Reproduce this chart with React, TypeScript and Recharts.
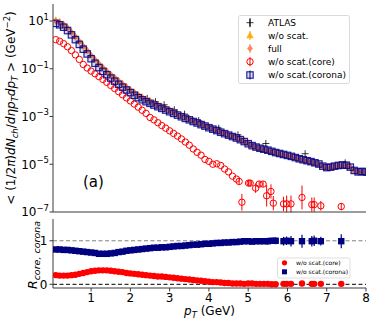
import React from "react";
import { ScatterChart, Scatter, XAxis, YAxis, ErrorBar, ReferenceLine } from "recharts";

const FONT = "'DejaVu Sans', sans-serif";
const FRAME = "#3a3a3a";

// pT grid of the model histograms (GeV)
const PT = [
  0.1, 0.2, 0.3, 0.4, 0.5, 0.6, 0.7, 0.8, 0.9, 1.0,
  1.1, 1.2, 1.3, 1.4, 1.5, 1.6, 1.7, 1.8, 1.9, 2.0,
  2.1, 2.2, 2.3, 2.4, 2.5, 2.6, 2.7, 2.8, 2.9, 3.0,
  3.1, 3.2, 3.3, 3.4, 3.5, 3.6, 3.7, 3.8, 3.9, 4.0,
  4.1, 4.2, 4.3, 4.4, 4.5, 4.6, 4.7, 4.8, 4.9, 5.0,
  5.1, 5.2, 5.3, 5.4, 5.5, 5.6, 5.7, 5.8, 5.9, 6.0,
  6.1, 6.2, 6.3, 6.4, 6.5, 6.6, 6.7, 6.8, 6.9, 7.0,
  7.1, 7.2, 7.3, 7.4, 7.5, 7.6, 7.7, 7.8, 7.9, 8.0,
];

// log10 of the yield
const WOSCAT_LOG = [
  1.03, 0.97, 0.86, 0.72, 0.54, 0.35, 0.15, -0.05, -0.24, -0.44,
  -0.62, -0.79, -0.95, -1.10, -1.24, -1.38, -1.51, -1.63, -1.76, -1.88,
  -1.99, -2.10, -2.19, -2.28, -2.36, -2.44, -2.51, -2.59, -2.66, -2.74,
  -2.81, -2.89, -2.96, -3.03, -3.10, -3.17, -3.23, -3.30, -3.37, -3.44,
  -3.50, -3.57, -3.63, -3.70, -3.77, -3.83, -3.89, -3.96, -4.04, -4.12,
  -4.21, -4.28, -4.32, -4.37, -4.42, -4.46, -4.50, -4.55, -4.60, -4.63,
  -4.67, -4.71, -4.77, -4.82, -4.85, -4.89, -4.95, -4.99, -5.07, -5.13,
  -5.12, -5.09, -5.05, -5.03, -5.05, -5.12, -5.25, -5.31, -5.30, -5.34,
];
const FULL_LOG = [
  1.00, 0.94, 0.84, 0.70, 0.52, 0.34, 0.14, -0.06, -0.24, -0.44,
  -0.62, -0.80, -0.96, -1.10, -1.24, -1.37, -1.51, -1.64, -1.76, -1.88,
  -2.00, -2.10, -2.20, -2.28, -2.36, -2.44, -2.52, -2.59, -2.66, -2.73,
  -2.82, -2.89, -2.96, -3.03, -3.10, -3.17, -3.24, -3.30, -3.37, -3.44,
  -3.51, -3.57, -3.64, -3.70, -3.76, -3.83, -3.89, -3.96, -4.04, -4.13,
  -4.22, -4.28, -4.33, -4.37, -4.41, -4.46, -4.51, -4.55, -4.59, -4.63,
  -4.67, -4.72, -4.77, -4.81, -4.85, -4.89, -4.94, -4.99, -5.08, -5.14,
  -5.12, -5.08, -5.05, -5.03, -5.04, -5.12, -5.26, -5.32, -5.30, -5.33,
];
const CORONA_LOG = [
  0.90, 0.84, 0.74, 0.60, 0.42, 0.22, 0.02, -0.18, -0.38, -0.58,
  -0.77, -0.95, -1.11, -1.25, -1.39, -1.52, -1.65, -1.77, -1.89, -2.00,
  -2.11, -2.21, -2.30, -2.38, -2.45, -2.52, -2.59, -2.66, -2.73, -2.80,
  -2.87, -2.94, -3.01, -3.08, -3.14, -3.21, -3.27, -3.34, -3.40, -3.47,
  -3.53, -3.59, -3.66, -3.72, -3.78, -3.84, -3.90, -3.97, -4.05, -4.14,
  -4.22, -4.28, -4.33, -4.37, -4.41, -4.46, -4.51, -4.55, -4.59, -4.63,
  -4.67, -4.72, -4.77, -4.81, -4.85, -4.89, -4.94, -4.99, -5.08, -5.14,
  -5.12, -5.08, -5.05, -5.03, -5.04, -5.12, -5.26, -5.32, -5.30, -5.33,
];
// core: pT 0.1 .. 4.7
const CORE_LOG = [
  0.22, 0.15, 0.05, -0.08, -0.24, -0.42, -0.61, -0.82, -0.97, -1.10,
  -1.21, -1.33, -1.45, -1.57, -1.70, -1.83, -1.96, -2.09, -2.22, -2.35,
  -2.48, -2.61, -2.74, -2.87, -3.04, -3.14, -3.26, -3.38, -3.49, -3.60,
  -3.71, -3.82, -3.94, -4.07, -4.20, -4.36, -4.50, -4.62, -4.80, -4.88,
  -5.00, -4.98, -5.05, -5.20, -5.32, -5.50, -5.62,
];
const CORE_TAIL_PT = [4.77, 4.84, 5.01, 5.05, 5.19, 5.28, 5.38, 5.47, 5.58, 5.64, 5.9, 5.98, 6.09, 6.37, 6.62, 6.68, 6.85, 7.37];
const CORE_TAIL_LOG = [-5.72, -6.59, -5.79, -5.79, -6.0, -5.83, -5.83, -6.32, -6.14, -6.63, -6.66, -6.66, -6.66, -6.39, -6.69, -6.69, -6.74, -6.77];
const CORE_TAIL_ERR = [0.15, 0.35, 0.1, 0.1, 0.2, 0.12, 0.12, 0.45, 0.3, 0.3, 0.3, 0.35, 0.35, 0.5, 0.3, 0.3, 0.2, 0.15];

// ATLAS points that stand out of the model band
const ATLAS_PT = [2.43, 2.64, 2.86, 3.12, 3.38, 3.74, 4.25, 4.74, 5.45, 6.45, 7.47];
const ATLAS_LOG = [-2.24, -2.38, -2.51, -2.72, -2.9, -3.17, -3.49, -3.77, -4.13, -4.56, -4.94];

// ratios, pT 0.1 .. 5.7
const R_CORONA = [
  0.80, 0.80, 0.79, 0.79, 0.78, 0.77, 0.76, 0.75, 0.74, 0.73,
  0.72, 0.70, 0.70, 0.70, 0.71, 0.72, 0.74, 0.75, 0.77, 0.78,
  0.79, 0.80, 0.81, 0.82, 0.83, 0.84, 0.84, 0.85, 0.85, 0.86,
  0.87, 0.88, 0.88, 0.89, 0.90, 0.91, 0.91, 0.92, 0.93, 0.93,
  0.94, 0.95, 0.95, 0.96, 0.96, 0.97, 0.97, 0.98, 0.99, 0.99,
  0.98, 0.99, 0.99, 0.99, 0.99, 1.00, 1.00,
];
const R_CORONA_ERR = [
  0, 0, 0, 0, 0, 0, 0, 0, 0, 0,
  0, 0, 0, 0, 0, 0, 0, 0, 0, 0,
  0, 0, 0, 0, 0, 0, 0, 0, 0, 0,
  0, 0, 0, 0, 0, 0, 0, 0, 0, 0,
  0, 0, 0, 0, 0, 0, 0.02, 0.03, 0.05, 0.04,
  0.06, 0.05, 0.07, 0.06, 0.08, 0.07, 0.08,
];
const R_CORE = [
  0.21, 0.20, 0.20, 0.20, 0.21, 0.22, 0.24, 0.26, 0.28, 0.30,
  0.31, 0.32, 0.32, 0.32, 0.31, 0.30, 0.29, 0.28, 0.26, 0.25,
  0.24, 0.23, 0.22, 0.21, 0.20, 0.19, 0.18, 0.18, 0.17, 0.16,
  0.15, 0.14, 0.13, 0.12, 0.11, 0.10, 0.09, 0.08, 0.07, 0.06,
  0.05, 0.05, 0.04, 0.03, 0.03, 0.02, 0.02, 0.02, 0.01, 0.02,
  0.02, 0.01, 0.01, 0.01, 0.01, 0.00, 0.00,
];
const R_TAIL_PT = [5.9, 5.98, 6.09, 6.37, 6.62, 6.68, 6.85, 7.37];
const R_CORONA_TAIL = [0.99, 1.0, 0.99, 0.99, 0.99, 1.0, 0.99, 0.99];
const R_CORONA_TAIL_ERR = [0.1, 0.1, 0.12, 0.15, 0.12, 0.12, 0.1, 0.16];
const R_CORE_TAIL = [0.01, 0.01, 0.01, 0.02, 0.01, 0.01, 0.01, 0.01];

const X_TICKS = [1, 2, 3, 4, 5, 6, 7, 8];
const Y_TICKS = [10, 1e-1, 1e-3, 1e-5, 1e-7];
const R_TICKS = [0, 1];

const spectrum = (xs: number[], logs: number[]) => xs.map((x, i) => ({ x, y: 10 ** logs[i] }));
const spectrumErr = (xs: number[], logs: number[], errs: number[]) =>
  xs.map((x, i) => {
    const y = 10 ** logs[i];
    return { x, y, e: [y - y / 10 ** errs[i], y * 10 ** errs[i] - y] };
  });
const ratio = (xs: number[], ys: number[], errs?: number[]) =>
  xs.map((x, i) => ({ x, y: ys[i], e: errs ? errs[i] : 0 }));

const atlasData = spectrum(ATLAS_PT, ATLAS_LOG);
const woScatData = spectrum(PT, WOSCAT_LOG);
const fullData = spectrum(PT, FULL_LOG);
const coreData = [
  ...spectrumErr(PT.slice(0, CORE_LOG.length), CORE_LOG, CORE_LOG.map(() => 0)),
  ...spectrumErr(CORE_TAIL_PT, CORE_TAIL_LOG, CORE_TAIL_ERR),
];
const coronaData = spectrum(PT, CORONA_LOG);
const rCoreData = [...ratio(PT.slice(0, R_CORE.length), R_CORE), ...ratio(R_TAIL_PT, R_CORE_TAIL)];
const rCoronaData = [
  ...ratio(PT.slice(0, R_CORONA.length), R_CORONA, R_CORONA_ERR),
  ...ratio(R_TAIL_PT, R_CORONA_TAIL, R_CORONA_TAIL_ERR),
];

// marker shapes
type M = { cx?: number; cy?: number };
const Cross = ({ cx = 0, cy = 0 }: M) => (
  <path d={`M${cx - 3.5},${cy}H${cx + 3.5}M${cx},${cy - 3.5}V${cy + 3.5}`} stroke="#000" strokeWidth={0.8} />
);
const Tri = ({ cx = 0, cy = 0 }: M) => (
  <polygon points={`${cx},${cy - 4} ${cx + 3.8},${cy + 2.8} ${cx - 3.8},${cy + 2.8}`} fill="#ffa500" fillOpacity={0.85} />
);
const Diamond = ({ cx = 0, cy = 0 }: M) => (
  <polygon points={`${cx},${cy - 3.6} ${cx + 3},${cy} ${cx},${cy + 3.6} ${cx - 3},${cy}`} fill="#ff7f50" fillOpacity={0.9} />
);
const OpenCircle = ({ cx = 0, cy = 0 }: M) => (
  <circle cx={cx} cy={cy} r={3.2} fill="none" stroke="#ff0000" strokeWidth={1} />
);
const OpenSquare = ({ cx = 0, cy = 0 }: M) => (
  <rect x={cx - 3.2} y={cy - 3.2} width={6.4} height={6.4} fill="#00008b" fillOpacity={0.15} stroke="#00008b" strokeOpacity={0.85} strokeWidth={1.2} />
);
const Dot = ({ cx = 0, cy = 0 }: M) => <circle cx={cx} cy={cy} r={3.2} fill="#ff0000" />;
const Block = ({ cx = 0, cy = 0 }: M) => <rect x={cx - 3.2} y={cy - 3.2} width={6.4} height={6.4} fill="#000080" />;

function LogTick({ x, y, payload }: any) {
  const exp = Math.round(Math.log10(payload.value));
  const label = exp < 0 ? "\u2212" + Math.abs(exp) : String(exp);
  return (
    <text x={x} y={y} dy="0.36em" textAnchor="end" fontSize={12} fontFamily={FONT} fill="#000">
      10<tspan dy={-5.5} fontSize={8.5}>{label}</tspan>
    </text>
  );
}

const tickFont = { fontSize: 12, fontFamily: FONT, fill: "#000" };

function Overlay() {
  const legendRows = [
    { y: 22.7, label: "ATLAS", M: Cross, color: "#000" },
    { y: 35.5, label: "w/o scat.", M: Tri, color: "#ffa500" },
    { y: 48.5, label: "full", M: Diamond, color: "#ff7f50" },
    { y: 61.7, label: "w/o scat.(core)", M: OpenCircle, color: "#ff0000" },
    { y: 75, label: "w/o scat.(corona)", M: OpenSquare, color: "#00008b" },
  ];
  return (
    <svg width={374} height={324} style={{ position: "absolute", left: 0, top: 0, pointerEvents: "none" }} fontFamily={FONT}>
      <text transform="translate(14.5,108) rotate(-90)" textAnchor="middle" fontSize={12} fill="#000">
        <tspan>{"< (1/2"}</tspan>
        <tspan fontStyle="italic">π</tspan>
        <tspan>)</tspan>
        <tspan fontStyle="italic">dN</tspan>
        <tspan fontStyle="italic" fontSize={8.5} dy={3}>ch</tspan>
        <tspan dy={-3}>/</tspan>
        <tspan fontStyle="italic">dηp</tspan>
        <tspan fontStyle="italic" fontSize={8.5} dy={3}>T</tspan>
        <tspan fontStyle="italic" dy={-3}>dp</tspan>
        <tspan fontStyle="italic" fontSize={8.5} dy={3}>T</tspan>
        <tspan dy={-3}>{" > (GeV"}</tspan>
        <tspan fontSize={8.5} dy={-5}>−2</tspan>
        <tspan dy={5}>)</tspan>
      </text>
      <text transform="translate(37,255) rotate(-90)" textAnchor="middle" fontSize={12.5} fill="#000">
        <tspan fontStyle="italic">R</tspan>
        <tspan fontStyle="italic" fontSize={9.5} dy={3}>core, corona</tspan>
      </text>
      <text x={83} y={187} fontSize={15} fill="#000">(a)</text>
      <text x={209.5} y={315} textAnchor="middle" fontSize={12} fill="#000">
        <tspan fontStyle="italic">p</tspan>
        <tspan fontStyle="italic" fontSize={8.5} dy={3}>T</tspan>
        <tspan dy={-3}>{" (GeV)"}</tspan>
      </text>

      <rect x={238.5} y={15.5} width={111} height={68} rx={2} fill="#fff" fillOpacity={0.8} stroke="#d0d0d0" strokeWidth={0.8} />
      {legendRows.map(({ y, label, M, color }) => (
        <g key={label}>
          <line x1={250} x2={250} y1={y - 4.5} y2={y + 4.5} stroke={color} strokeWidth={1} />
          <M cx={250} cy={y} />
          <text x={268} y={y} dy="0.35em" fontSize={9} fill="#000">{label}</text>
        </g>
      ))}

      <rect x={277.5} y={258} width={72.5} height={20} rx={1.5} fill="#fff" fillOpacity={0.8} stroke="#d0d0d0" strokeWidth={0.7} />
      <circle cx={284.5} cy={262.8} r={2.6} fill="#ff0000" />
      <text x={296} y={262.8} dy="0.35em" fontSize={6} fill="#000">w/o scat.(core)</text>
      <rect x={282} y={269.3} width={5} height={5} fill="#000080" />
      <text x={296} y={271.8} dy="0.35em" fontSize={6} fill="#000">w/o scat.(corona)</text>
    </svg>
  );
}

export default function App() {
  return (
    <div style={{ position: "absolute", left: 0, top: 0, width: 374, height: 324, background: "#fff", fontFamily: FONT }}>
      <ScatterChart width={374} height={222} margin={{ top: 4, right: 8, bottom: 0, left: 0 }}>
        <XAxis type="number" dataKey="x" domain={[0.03, 8]} ticks={X_TICKS} interval={0} allowDataOverflow
          height={10} tick={false} tickSize={3.5} axisLine={{ stroke: FRAME }} tickLine={{ stroke: FRAME }} />
        <YAxis type="number" dataKey="y" scale="log" domain={[1e-7, 51.5]} ticks={Y_TICKS} interval={0} allowDataOverflow
          width={53} tickSize={3.5} tickMargin={0.5} tick={<LogTick />} axisLine={{ stroke: FRAME }} tickLine={{ stroke: FRAME }} />
        <XAxis xAxisId="top" orientation="top" type="number" domain={[0.03, 8]} height={0} tick={false} tickLine={false} axisLine={{ stroke: FRAME }} />
        <YAxis yAxisId="right" orientation="right" type="number" domain={[0, 1]} width={0} tick={false} tickLine={false} axisLine={{ stroke: FRAME }} />
        <Scatter data={atlasData} shape={(p: any) => <Cross cx={p.cx} cy={p.cy} />} isAnimationActive={false} />
        <Scatter data={woScatData} shape={(p: any) => <Tri cx={p.cx} cy={p.cy} />} isAnimationActive={false} />
        <Scatter data={fullData} shape={(p: any) => <Diamond cx={p.cx} cy={p.cy} />} isAnimationActive={false} />
        <Scatter data={coreData} shape={(p: any) => <OpenCircle cx={p.cx} cy={p.cy} />} isAnimationActive={false}>
          <ErrorBar dataKey="e" direction="y" width={0} stroke="#ff0000" strokeWidth={1} />
        </Scatter>
        <Scatter data={coronaData} shape={(p: any) => <OpenSquare cx={p.cx} cy={p.cy} />} isAnimationActive={false} />
      </ScatterChart>
      <div style={{ position: "absolute", left: 0, top: 214 }}>
        <ScatterChart width={374} height={110} margin={{ top: 5, right: 8, bottom: 0, left: 0 }}>
          <XAxis type="number" dataKey="x" domain={[0.03, 8]} ticks={X_TICKS} interval={0} allowDataOverflow
            height={36} tickSize={3.5} tick={tickFont} axisLine={{ stroke: FRAME }} tickLine={{ stroke: FRAME }} />
          <YAxis type="number" dataKey="y" domain={[-0.085, 1.5]} ticks={R_TICKS} interval={0} allowDataOverflow
            width={53} tickSize={3.5} tick={tickFont} axisLine={{ stroke: FRAME }} tickLine={{ stroke: FRAME }} />
          <XAxis xAxisId="top" orientation="top" type="number" domain={[0.03, 8]} height={0} tick={false} tickLine={false} axisLine={{ stroke: FRAME }} />
          <YAxis yAxisId="right" orientation="right" type="number" domain={[0, 1]} width={0} tick={false} tickLine={false} axisLine={{ stroke: FRAME }} />
          <ReferenceLine y={1} stroke="#808080" strokeDasharray="4 2.5" strokeWidth={1} />
          <ReferenceLine y={0} stroke="#000" strokeDasharray="4 2.5" strokeWidth={1} />
          <Scatter data={rCoreData} shape={(p: any) => <Dot cx={p.cx} cy={p.cy} />} isAnimationActive={false} />
          <Scatter data={rCoronaData} shape={(p: any) => <Block cx={p.cx} cy={p.cy} />} isAnimationActive={false}>
            <ErrorBar dataKey="e" direction="y" width={0} stroke="#000080" strokeWidth={1.2} />
          </Scatter>
        </ScatterChart>
      </div>
      <Overlay />
    </div>
  );
}
